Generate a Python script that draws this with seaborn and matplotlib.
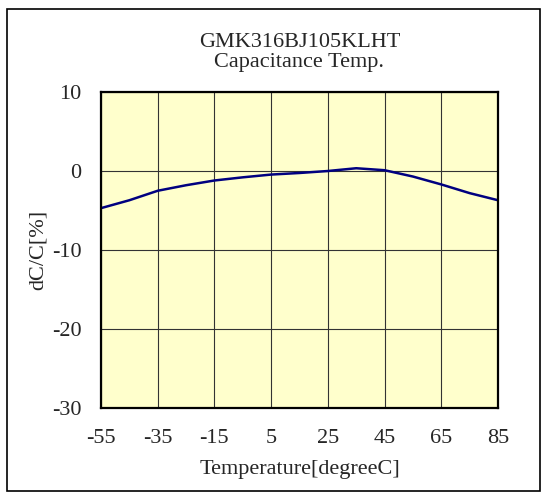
import seaborn as sns
import pandas as pd
import matplotlib.pyplot as plt
from matplotlib.patches import Rectangle

# Values
temperature = [-55, -45, -35, -25, -15, -5, 5, 15, 25, 35, 45, 55, 65, 75, 85]
dc_c = [-4.7, -3.7, -2.5, -1.8, -1.2, -0.8, -0.45, -0.25, 0.0, 0.35, 0.1, -0.7, -1.7, -2.8, -3.7]
x_ticks = [-55, -35, -15, 5, 25, 45, 65, 85]
y_ticks = [-30, -20, -10, 0, 10]

df = pd.DataFrame({"temp": temperature, "dcc": dc_c})

sns.set_style("white")
plt.rcParams['font.family'] = ['Liberation Serif', 'DejaVu Serif']
plt.rcParams['axes.unicode_minus'] = False

fig = plt.figure(figsize=(5.41, 4.92), dpi=100)
ax = fig.add_axes([0.1867, 0.1707, 0.7338, 0.6423])
ax.set_facecolor("#FFFFCC")

sns.lineplot(data=df, x="temp", y="dcc", color="#000080", linewidth=1.8, ax=ax)

ax.set_xlim(-55, 85)
ax.set_ylim(-30, 10)
ax.set_xticks(x_ticks)
ax.set_yticks(y_ticks)
ax.tick_params(axis="y", labelsize=16, length=0, pad=14)
ax.tick_params(axis="x", labelsize=16, length=0, pad=15)
ax.grid(True, color="#333333", linewidth=0.8)
for s in ax.spines.values():
    s.set_color("black")
    s.set_linewidth(1.6)

ax.set_xlabel("Temperature[degreeC]", fontsize=16, labelpad=9)
ax.set_ylabel("dC/C[%]", fontsize=16, labelpad=3)
ax.set_title("GMK316BJ105KLHT\nCapacitance Temp.", fontsize=16, pad=18, linespacing=1.1)

fig.patches.append(Rectangle((7 / 541, 1 / 492), 533 / 541, 482 / 492, transform=fig.transFigure,
                             fill=False, edgecolor="black", linewidth=1.2))

fig.savefig("out.png", dpi=100)
